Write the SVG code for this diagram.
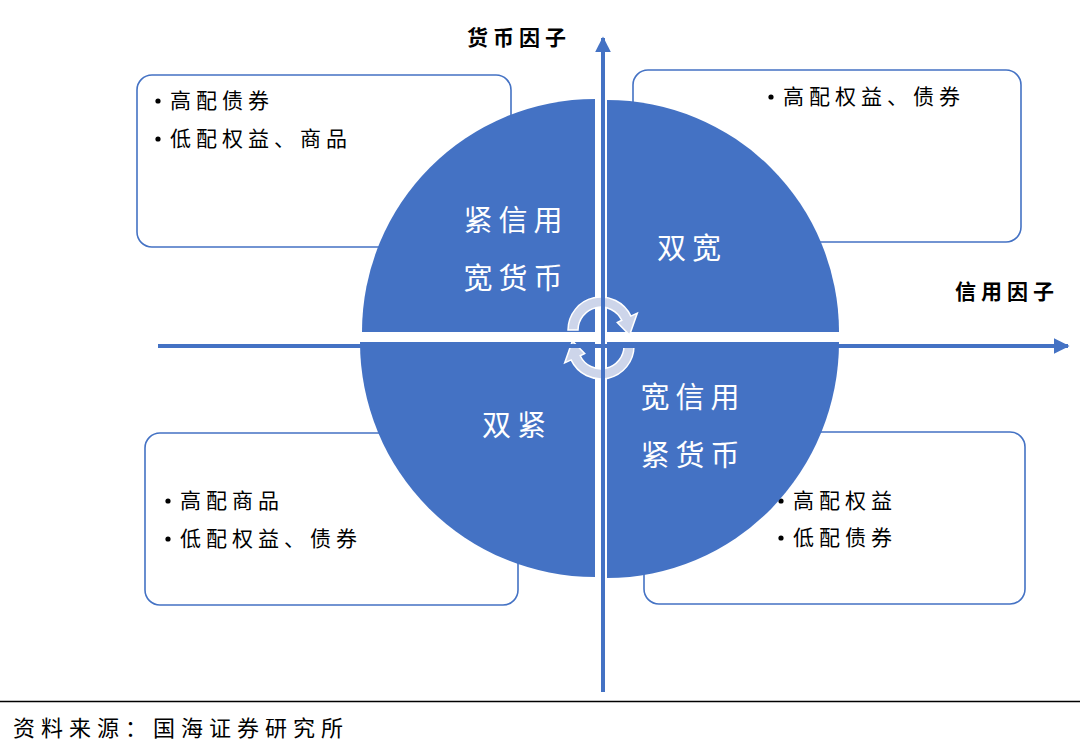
<svg xmlns="http://www.w3.org/2000/svg" width="1080" height="747" viewBox="0 0 1080 747">
<style>
.box{fill:#fff;stroke:#4472C4;stroke-width:1.6}
.q{fill:#4472C4}
.ql{fill:#fff;font-family:"Noto Sans CJK SC",sans-serif;font-size:29px;letter-spacing:6px}
.bt{fill:#000;font-family:"Noto Sans CJK SC",sans-serif;font-size:21px;letter-spacing:5px}
.bu{fill:#000}
.ax{fill:#000;font-family:"Noto Sans CJK SC",sans-serif;font-size:21px;font-weight:bold;letter-spacing:5px}
.src{fill:#000;font-family:"Noto Sans CJK SC",sans-serif;font-size:22px;letter-spacing:6px}
.axis{stroke:#4472C4;stroke-width:4;fill:none}
.cyc{fill:#CDD5EA;stroke:#fff;stroke-width:1.5}
</style>
<defs>
<marker id="ah" viewBox="0 0 10 10" refX="9" refY="5" markerWidth="4" markerHeight="4" orient="auto" markerUnits="strokeWidth">
<path d="M0,0 L10,5 L0,10 z" fill="#4472C4"/>
</marker>
<path id="cyc" d="M-33,0 A33,33 0 0 1 29.9,-13.9 L36.3,-16.9 L28.6,5 L16.3,-7.6 L20.8,-9.7 A23,23 0 0 0 -23,0 Z"/>
</defs>
<g id="box-tl"><rect class="box" x="137" y="75" width="374" height="172" rx="15"/>
<circle class="bu" cx="158" cy="101" r="2.6"/><text class="bt" x="170" y="108">高配债券</text>
<circle class="bu" cx="158" cy="139" r="2.6"/><text class="bt" x="170" y="146">低配权益、商品</text></g>
<g id="box-tr"><rect class="box" x="633" y="70" width="388" height="172" rx="15"/>
<circle class="bu" cx="771" cy="97" r="2.6"/><text class="bt" x="783" y="104">高配权益、债券</text></g>
<g id="box-bl"><rect class="box" x="145" y="433" width="373" height="172" rx="15"/>
<circle class="bu" cx="168" cy="501" r="2.6"/><text class="bt" x="180" y="508">高配商品</text>
<circle class="bu" cx="168" cy="539" r="2.6"/><text class="bt" x="180" y="546">低配权益、债券</text></g>
<g id="box-br"><rect class="box" x="644" y="432" width="381" height="172" rx="15"/>
<circle class="bu" cx="781" cy="501" r="2.6"/><text class="bt" x="793" y="508">高配权益</text>
<circle class="bu" cx="781" cy="538" r="2.6"/><text class="bt" x="793" y="545">低配债券</text></g>
<g id="quad-tl"><path class="q" d="M595,332 L362,332 A233,233 0 0 1 595,99 Z"/>
<text class="ql" x="516" y="231" text-anchor="middle">紧信用</text>
<text class="ql" x="516" y="289" text-anchor="middle">宽货币</text></g>
<g id="quad-tr"><path class="q" d="M607,332 L607,100 A232,232 0 0 1 839,332 Z"/>
<text class="ql" x="692" y="259" text-anchor="middle">双宽</text></g>
<g id="quad-bl"><path class="q" d="M595,342 L595,577 A235,235 0 0 1 360,342 Z"/>
<text class="ql" x="517" y="436" text-anchor="middle">双紧</text></g>
<g id="quad-br"><path class="q" d="M607,342 L839,342 A232,236 0 0 1 607,578 Z"/>
<text class="ql" x="693" y="408" text-anchor="middle">宽信用</text>
<text class="ql" x="693" y="466" text-anchor="middle">紧货币</text></g>
<g id="cycle"><use href="#cyc" class="cyc" transform="translate(601,330)"/>
<use href="#cyc" class="cyc" transform="translate(601,346) rotate(180)"/></g>
<g id="connectors">
<line class="axis" x1="603" y1="692" x2="603" y2="38" marker-end="url(#ah)"/>
<line class="axis" x1="158" y1="346" x2="1068" y2="346" marker-end="url(#ah)"/>
</g>
<g id="labels">
<text class="ax" x="467" y="45">货币因子</text>
<text class="ax" x="955" y="299">信用因子</text>
</g>
<g id="source"><line x1="0" y1="701.5" x2="1080" y2="701.5" stroke="#000" stroke-width="1.5"/>
<text class="src" x="13" y="736">资料来源：国海证券研究所</text></g>
</svg>
